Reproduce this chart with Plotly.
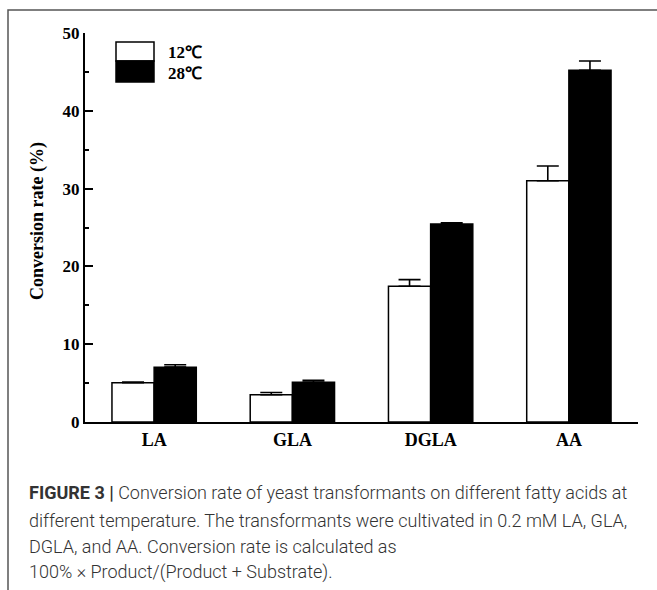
import plotly.graph_objects as go

categories = ["LA", "GLA", "DGLA", "AA"]
series_names = ["12℃", "28℃"]
vals_12 = [5.05, 3.5, 17.45, 31.0]
err_12 = [0.1, 0.3, 0.85, 1.9]
vals_28 = [7.05, 5.1, 25.45, 45.2]
err_28 = [0.3, 0.25, 0.15, 1.2]
y_ticks = [0, 10, 20, 30, 40, 50]
caption_lines = [
    "<b>FIGURE 3 |</b> Conversion rate of yeast transformants on different fatty acids at",
    "different temperature. The transformants were cultivated in 0.2 mM LA, GLA,",
    "DGLA, and AA. Conversion rate is calculated as",
    "100% × Product/(Product + Substrate).",
]

SERIF = "Liberation Serif, Times New Roman, serif"
SANS = "Roboto, Liberation Sans, sans-serif"

fig = go.Figure()
fig.add_trace(go.Bar(
    x=categories, y=vals_12, name=series_names[0],
    marker=dict(color="white", line=dict(color="black", width=1.5)),
    error_y=dict(type="data", symmetric=False, array=err_12, arrayminus=[0]*4,
                 color="black", thickness=1.6, width=11),
))
fig.add_trace(go.Bar(
    x=categories, y=vals_28, name=series_names[1],
    marker=dict(color="black", line=dict(color="black", width=1.5)),
    error_y=dict(type="data", symmetric=False, array=err_28, arrayminus=[0]*4,
                 color="black", thickness=1.6, width=11),
))

fig.update_layout(
    width=657, height=590,
    margin=dict(l=85, r=19, t=33, b=168),
    paper_bgcolor="white", plot_bgcolor="white",
    barmode="group", bargap=0.39, bargroupgap=0,
    showlegend=False,
    font=dict(family=SERIF, color="black"),
)
fig.update_xaxes(
    range=[-0.5, 3.5], showline=True, linecolor="black", linewidth=2,
    ticks="", showgrid=False, zeroline=False,
    tickfont=dict(family=SERIF, size=18, weight="bold", color="black"),
)
fig.update_yaxes(
    range=[0, 50], tickvals=y_ticks, showline=True, linecolor="black", linewidth=2,
    ticks="inside", ticklen=8, tickwidth=2, tickcolor="black",
    minor=dict(dtick=5, ticks="inside", ticklen=4, tickwidth=1.5, tickcolor="black", showgrid=False),
    showgrid=False, zeroline=False,
    tickfont=dict(family=SERIF, size=17, weight="bold", color="black"),
)

# y title
fig.add_annotation(
    text="Conversion rate (%)", xref="paper", yref="paper",
    x=(37 - 85) / 553, y=(422 - 221) / 389, textangle=-90, showarrow=False,
    font=dict(family=SERIF, size=18, weight="bold", color="black"),
    xanchor="center", yanchor="middle",
)

# legend (drawn manually to match large swatches)
def px_x(p):
    return (p - 85) / 553

def px_y(p):
    return (422 - p) / 389

fig.add_shape(type="rect", xref="paper", yref="paper",
              x0=px_x(116), x1=px_x(154), y0=px_y(61), y1=px_y(42),
              fillcolor="white", line=dict(color="black", width=1.5))
fig.add_shape(type="rect", xref="paper", yref="paper",
              x0=px_x(116), x1=px_x(154), y0=px_y(82), y1=px_y(61),
              fillcolor="black", line=dict(color="black", width=1.5))
for name, py in zip(series_names, [52, 73]):
    fig.add_annotation(text=name, xref="paper", yref="paper", x=px_x(166), y=px_y(py),
                       xanchor="left", yanchor="middle", showarrow=False,
                       font=dict(family=SERIF, size=17, weight="bold", color="black"))

# outer frame
fig.add_shape(type="path", xref="paper", yref="paper",
              path=f"M {px_x(8)},{px_y(620)} L {px_x(8)},{px_y(10)} L {px_x(680)},{px_y(10)}",
              line=dict(color="#555555", width=1.5))

# caption
for line, py in zip(caption_lines, [493, 520, 546, 572]):
    fig.add_annotation(text=line, xref="paper", yref="paper", x=px_x(27), y=px_y(py),
                       xanchor="left", yanchor="middle", showarrow=False, align="left",
                       font=dict(family=SANS, size=18, weight=300, color="#333333"))

fig.write_html("out.html")
